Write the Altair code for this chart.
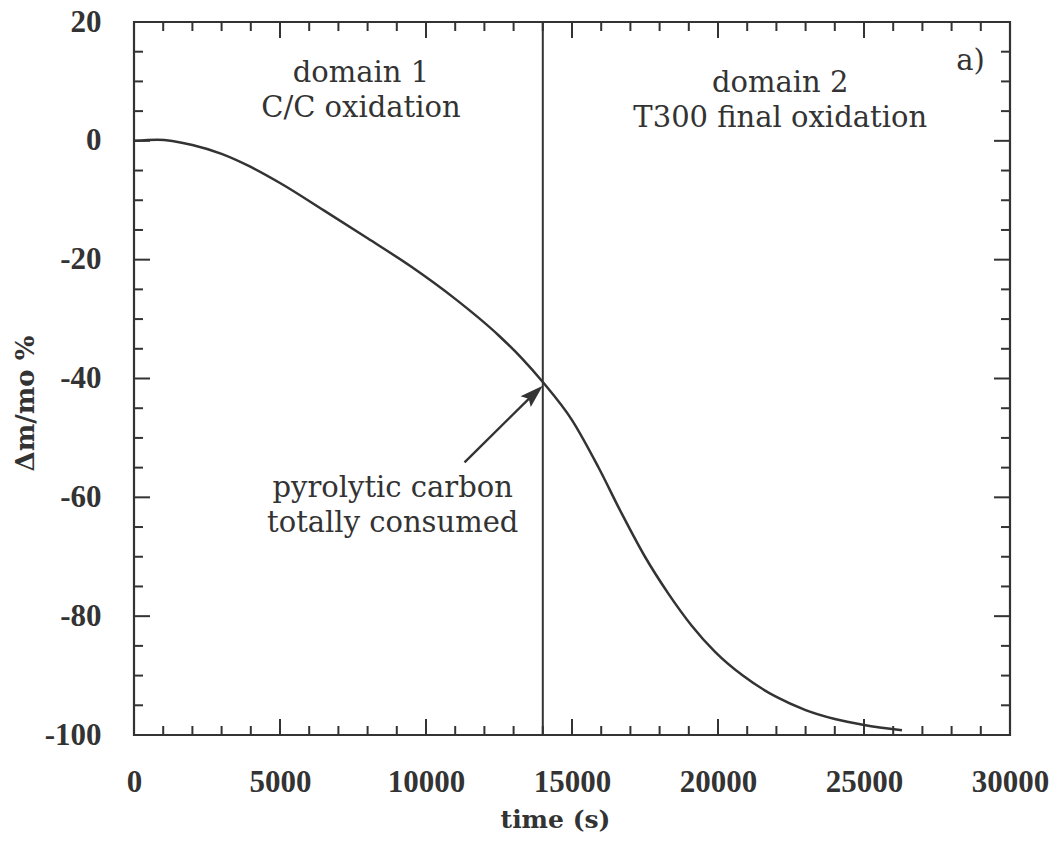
import altair as alt
import pandas as pd

# Mass-loss curve: time (s) and relative mass change (%)
time_s = [0, 800, 2000, 3000, 4000, 5000, 6500, 8000, 9500, 11000, 12500, 13300,
          14000, 15000, 15900, 16700, 17500, 18300, 19100, 19900, 20850, 22000,
          23000, 24000, 25000, 26300]
dm_pct = [0, 0.2, -0.7, -2.2, -4.4, -7.1, -11.7, -16.4, -21.2, -26.6, -32.8, -36.7,
          -40.6, -47.0, -54.9, -62.7, -70.0, -76.2, -81.6, -86.0, -90.0, -93.6,
          -95.8, -97.3, -98.3, -99.2]

# Boundary between the two oxidation domains
boundary_t = 14000

# Axis ticks
x_major = list(range(0, 30001, 5000))
x_minor = [v for v in range(0, 30001, 1000) if v % 5000]
y_major = list(range(-100, 21, 20))
y_minor = [v for v in range(-100, 21, 5) if v % 20]

# Text annotations (data coordinates)
notes_t = [7770, 7770, 22130, 22130, 28650, 8860, 8860]
notes_v = [9.9, 4.0, 8.2, 2.3, 11.9, -60.0, -65.9]
notes_txt = ["domain 1", "C/C oxidation", "domain 2", "T300 final oxidation", "a)",
             "pyrolytic carbon", "totally consumed"]

# Arrow pointing at the end of pyrolytic carbon consumption
arrow_tail = (11320, -54.1)
arrow_tip = (14000, -41.2)
arrow_neck = (13650, -42.8)

W, H = 876, 713
INK = "#333333"
SERIF = "DejaVu Serif"
NUM_FONT = "Liberation Serif"

xs = alt.Scale(domain=[0, 30000], nice=False, zero=False)
ys = alt.Scale(domain=[-100, 20], nice=False, zero=False)

x_axis = alt.Axis(
    values=x_major, labelExpr="'' + datum.value", ticks=False, tickSize=0,
    domain=False, grid=False, labelPadding=32, labelFlush=False,
    labelOverlap=False, labelFont=NUM_FONT, labelFontSize=31,
    labelFontWeight="bold", labelColor=INK,
    title="time (s)", titleFont=SERIF, titleFontSize=25, titleFontWeight="bold",
    titleColor=INK, titleX=421, titleY=92, titleBaseline="alphabetic",
    titleAlign="center")
y_axis = alt.Axis(
    values=y_major, labelExpr="'' + datum.value", ticks=False, tickSize=0,
    domain=False, grid=False, labelPadding=33, labelFlush=False,
    labelOverlap=False, labelFont=NUM_FONT, labelFontSize=31,
    labelFontWeight="bold", labelColor=INK,
    title="Δm/mo %", titleFont=SERIF, titleFontSize=26, titleFontWeight="bold",
    titleColor=INK, titleAngle=270, titleX=-101, titleY=381,
    titleBaseline="alphabetic", titleAlign="center")


def X(field="t"):
    return alt.X(f"{field}:Q", scale=xs, axis=x_axis, title="time (s)")


def Y(field="v"):
    return alt.Y(f"{field}:Q", scale=ys, axis=y_axis, title="Δm/mo %")


curve_df = pd.DataFrame({"t": time_s, "v": dm_pct})
curve = alt.Chart(curve_df).mark_line(
    color=INK, strokeWidth=2.5, interpolate="monotone"
).encode(x=X(), y=Y())


def xticks(values, length):
    df = pd.DataFrame({"t": values})
    bottom = alt.Chart(df).mark_rule(color=INK, strokeWidth=2).encode(
        x=X(), y=alt.value(H), y2=alt.value(H - length))
    top = alt.Chart(df).mark_rule(color=INK, strokeWidth=2).encode(
        x=X(), y=alt.value(0), y2=alt.value(length))
    return [bottom, top]


def yticks(values, length):
    df = pd.DataFrame({"v": values})
    left = alt.Chart(df).mark_rule(color=INK, strokeWidth=2).encode(
        y=Y(), x=alt.value(0), x2=alt.value(length))
    right = alt.Chart(df).mark_rule(color=INK, strokeWidth=2).encode(
        y=Y(), x=alt.value(W - length), x2=alt.value(W))
    return [left, right]


tick_layers = (xticks(x_major, 16) + xticks(x_minor, 9)
               + yticks(y_major, 16) + yticks(y_minor, 9))

boundary = alt.Chart(pd.DataFrame({"t": [boundary_t]})).mark_rule(
    color=INK, strokeWidth=2
).encode(x=X(), y=alt.value(0), y2=alt.value(H))

arrow_df = pd.DataFrame({"t": [arrow_tail[0]], "v": [arrow_tail[1]],
                         "t2": [arrow_neck[0]], "v2": [arrow_neck[1]]})
arrow_shaft = alt.Chart(arrow_df).mark_rule(color=INK, strokeWidth=2.4).encode(
    x=X(), y=Y(), x2="t2:Q", y2="v2:Q")

head_df = pd.DataFrame({"t": [arrow_tip[0]], "v": [arrow_tip[1]]})
arrow_head = alt.Chart(head_df).mark_point(
    shape="M0,0 L-0.32,1 L0,0.82 L0.32,1 Z", size=2200, filled=True,
    color=INK, opacity=1, angle=47, strokeWidth=0
).encode(x=X(), y=Y())

notes_df = pd.DataFrame({"t": notes_t, "v": notes_v, "txt": notes_txt})
notes = alt.Chart(notes_df).mark_text(
    font=SERIF, fontSize=29, color=INK, align="center", baseline="alphabetic"
).encode(x=X(), y=Y(), text="txt:N")

chart = alt.layer(
    curve, *tick_layers, boundary, arrow_shaft, arrow_head, notes
).properties(
    width=W, height=H,
    padding={"left": 134, "top": 22, "right": 43, "bottom": 110},
    autosize=alt.AutoSizeParams(type="none"),
    background="white",
).configure_view(stroke=INK, strokeWidth=2.2)

chart.save("out.html", embed_options={"renderer": "svg", "actions": False})
